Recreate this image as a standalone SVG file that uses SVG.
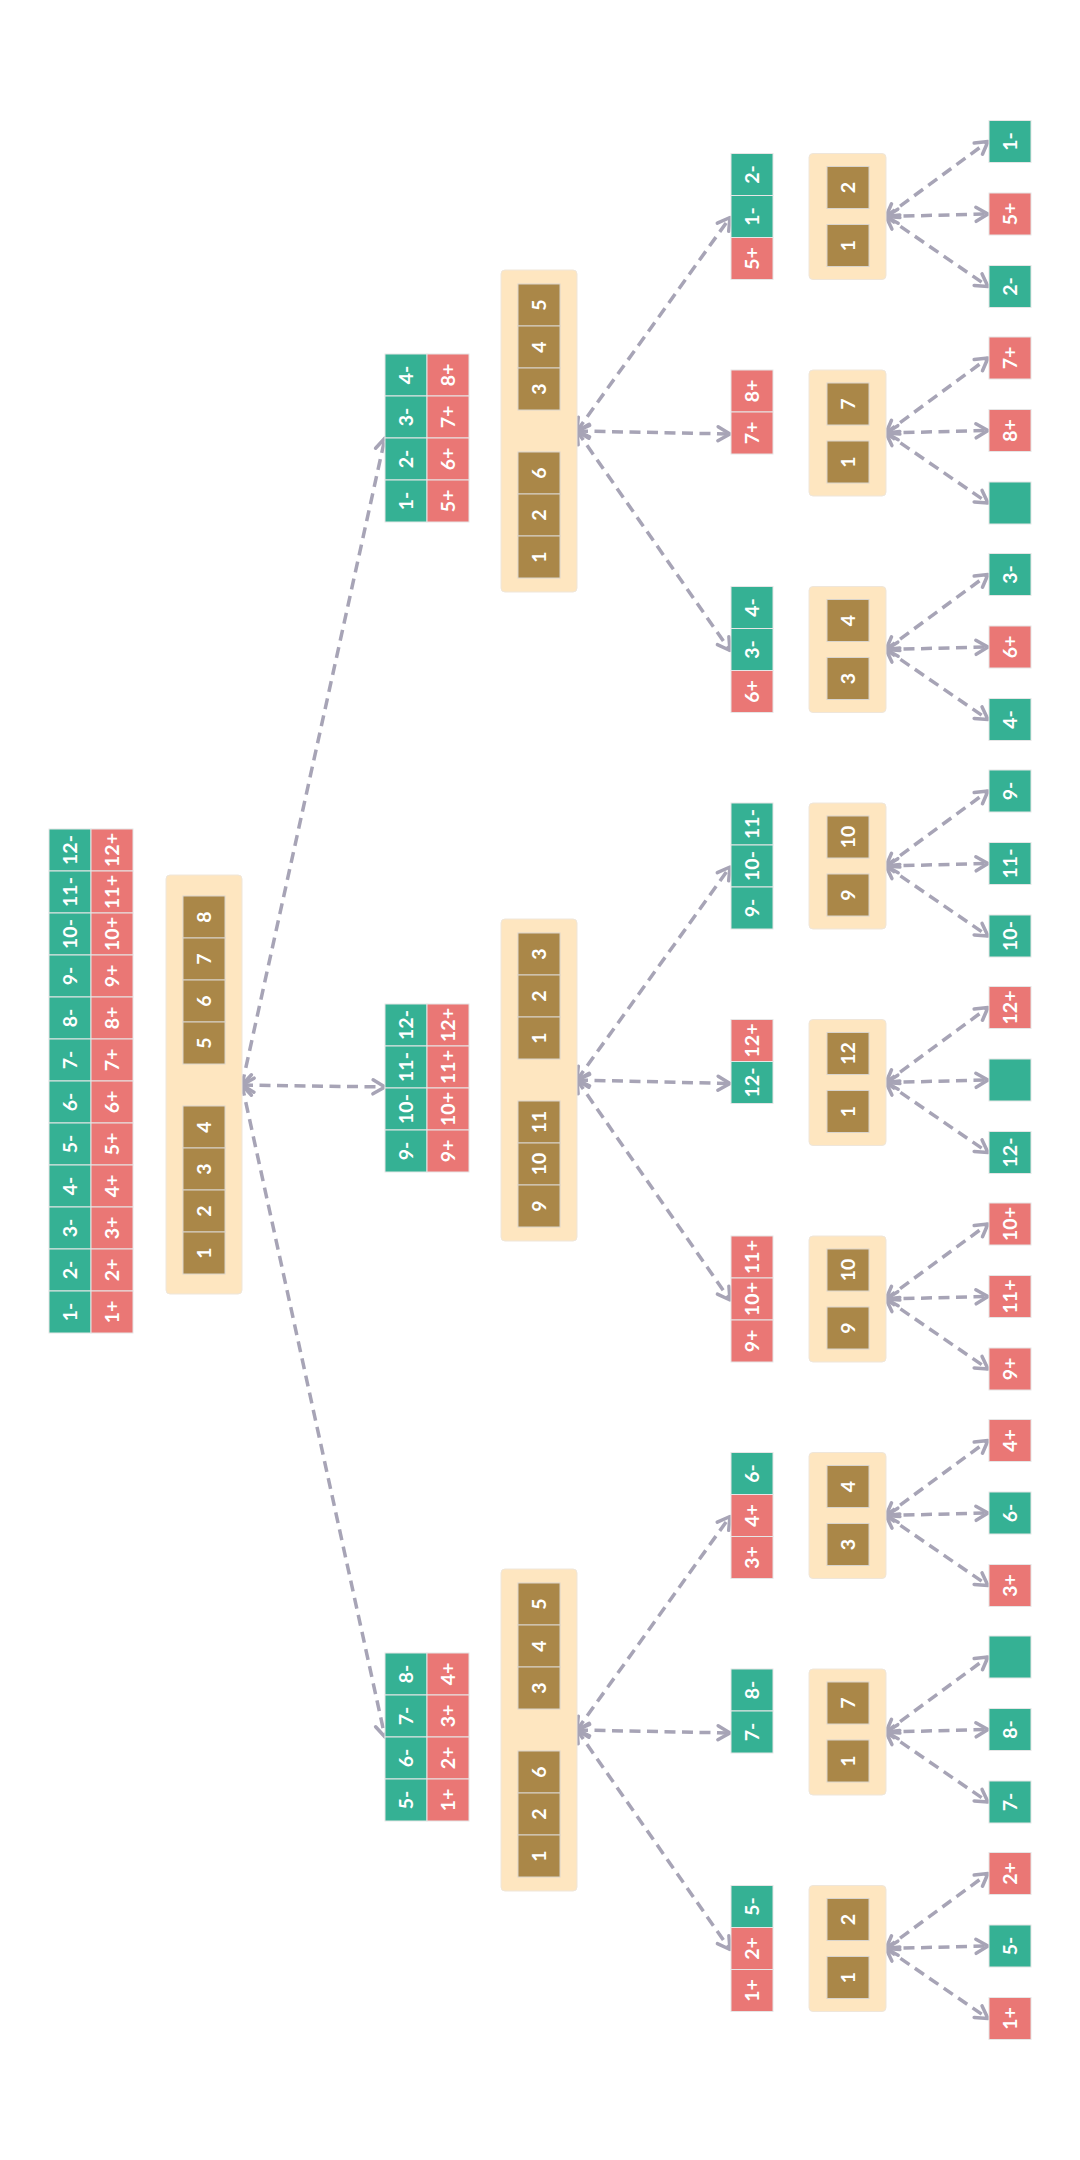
<svg xmlns="http://www.w3.org/2000/svg" width="1080" height="2160" viewBox="0 0 1080 2160">
  <style>
    .g { fill: #35b194; stroke: #e6e6e6; stroke-width: 1; }
    .r { fill: #ea7775; stroke: #e6e6e6; stroke-width: 1; }
    .b { fill: #aa8748; stroke: #d9d4cc; stroke-width: 1; }
    .box { fill: #fee6c0; stroke: #efe6da; stroke-width: 1; }
    .t { fill: #ffffff; font-family: Lato, "DejaVu Sans", sans-serif; font-weight: 700; font-size: 19.5px; text-anchor: middle; }
    .edge { fill: none; stroke: #a7a4b6; stroke-width: 3.5; stroke-dasharray: 11 6.5; marker-start: url(#chev); marker-end: url(#chev); }
  </style>
  <defs>
    <marker id="chev" markerUnits="userSpaceOnUse" markerWidth="20" markerHeight="20" viewBox="0 0 20 20" refX="15.5" refY="10" orient="auto-start-reverse">
      <path d="M3.5,3 L15.5,10 L3.5,17" fill="none" stroke="#a7a4b6" stroke-width="3.5" stroke-dasharray="none" stroke-linecap="round" stroke-linejoin="round"/>
    </marker>
  </defs>
  <rect width="1080" height="2160" fill="#ffffff"/>

  <!-- connectors -->
  <g id="connectors">
    <path class="edge" d="M242,1085 L385,438"/>
    <path class="edge" d="M242,1085 L385,1087"/>
    <path class="edge" d="M242,1085 L385,1737"/>

    <path class="edge" d="M577,431 L730,217.5"/>
    <path class="edge" d="M577,431 L730,434"/>
    <path class="edge" d="M577,431 L730,650.5"/>
    <path class="edge" d="M577,1080 L730,867"/>
    <path class="edge" d="M577,1080 L730,1083.5"/>
    <path class="edge" d="M577,1080 L730,1300"/>
    <path class="edge" d="M577,1730 L730,1516.5"/>
    <path class="edge" d="M577,1730 L730,1733"/>
    <path class="edge" d="M577,1730 L730,1949.5"/>

    <path class="edge" d="M886,216.5 L988,141.5"/>
    <path class="edge" d="M886,216.5 L988,214"/>
    <path class="edge" d="M886,216.5 L988,286.5"/>
    <path class="edge" d="M886,433 L988,358"/>
    <path class="edge" d="M886,433 L988,430.5"/>
    <path class="edge" d="M886,433 L988,503"/>
    <path class="edge" d="M886,649.5 L988,574.5"/>
    <path class="edge" d="M886,649.5 L988,647"/>
    <path class="edge" d="M886,649.5 L988,719.5"/>
    <path class="edge" d="M886,866 L988,791"/>
    <path class="edge" d="M886,866 L988,863.5"/>
    <path class="edge" d="M886,866 L988,936"/>
    <path class="edge" d="M886,1082.5 L988,1007.5"/>
    <path class="edge" d="M886,1082.5 L988,1080"/>
    <path class="edge" d="M886,1082.5 L988,1152.5"/>
    <path class="edge" d="M886,1299 L988,1224"/>
    <path class="edge" d="M886,1299 L988,1296.5"/>
    <path class="edge" d="M886,1299 L988,1369"/>
    <path class="edge" d="M886,1515.5 L988,1440.5"/>
    <path class="edge" d="M886,1515.5 L988,1513"/>
    <path class="edge" d="M886,1515.5 L988,1585.5"/>
    <path class="edge" d="M886,1732 L988,1657"/>
    <path class="edge" d="M886,1732 L988,1729.5"/>
    <path class="edge" d="M886,1732 L988,1802"/>
    <path class="edge" d="M886,1948.5 L988,1873.5"/>
    <path class="edge" d="M886,1948.5 L988,1946"/>
    <path class="edge" d="M886,1948.5 L988,2018.5"/>
  </g>

  <!-- root: full legend of all twelve items -->
  <g id="root-legend">
    <rect class="g" x="49" y="829" width="42" height="42"/><rect class="r" x="91" y="829" width="42" height="42"/>
    <rect class="g" x="49" y="871" width="42" height="42"/><rect class="r" x="91" y="871" width="42" height="42"/>
    <rect class="g" x="49" y="913" width="42" height="42"/><rect class="r" x="91" y="913" width="42" height="42"/>
    <rect class="g" x="49" y="955" width="42" height="42"/><rect class="r" x="91" y="955" width="42" height="42"/>
    <rect class="g" x="49" y="997" width="42" height="42"/><rect class="r" x="91" y="997" width="42" height="42"/>
    <rect class="g" x="49" y="1039" width="42" height="42"/><rect class="r" x="91" y="1039" width="42" height="42"/>
    <rect class="g" x="49" y="1081" width="42" height="42"/><rect class="r" x="91" y="1081" width="42" height="42"/>
    <rect class="g" x="49" y="1123" width="42" height="42"/><rect class="r" x="91" y="1123" width="42" height="42"/>
    <rect class="g" x="49" y="1165" width="42" height="42"/><rect class="r" x="91" y="1165" width="42" height="42"/>
    <rect class="g" x="49" y="1207" width="42" height="42"/><rect class="r" x="91" y="1207" width="42" height="42"/>
    <rect class="g" x="49" y="1249" width="42" height="42"/><rect class="r" x="91" y="1249" width="42" height="42"/>
    <rect class="g" x="49" y="1291" width="42" height="42"/><rect class="r" x="91" y="1291" width="42" height="42"/>
    <text class="t" transform="translate(70 850) rotate(-90)" dy="7">12-</text><text class="t" transform="translate(112 850) rotate(-90)" dy="7">12+</text>
    <text class="t" transform="translate(70 892) rotate(-90)" dy="7">11-</text><text class="t" transform="translate(112 892) rotate(-90)" dy="7">11+</text>
    <text class="t" transform="translate(70 934) rotate(-90)" dy="7">10-</text><text class="t" transform="translate(112 934) rotate(-90)" dy="7">10+</text>
    <text class="t" transform="translate(70 976) rotate(-90)" dy="7">9-</text><text class="t" transform="translate(112 976) rotate(-90)" dy="7">9+</text>
    <text class="t" transform="translate(70 1018) rotate(-90)" dy="7">8-</text><text class="t" transform="translate(112 1018) rotate(-90)" dy="7">8+</text>
    <text class="t" transform="translate(70 1060) rotate(-90)" dy="7">7-</text><text class="t" transform="translate(112 1060) rotate(-90)" dy="7">7+</text>
    <text class="t" transform="translate(70 1102) rotate(-90)" dy="7">6-</text><text class="t" transform="translate(112 1102) rotate(-90)" dy="7">6+</text>
    <text class="t" transform="translate(70 1144) rotate(-90)" dy="7">5-</text><text class="t" transform="translate(112 1144) rotate(-90)" dy="7">5+</text>
    <text class="t" transform="translate(70 1186) rotate(-90)" dy="7">4-</text><text class="t" transform="translate(112 1186) rotate(-90)" dy="7">4+</text>
    <text class="t" transform="translate(70 1228) rotate(-90)" dy="7">3-</text><text class="t" transform="translate(112 1228) rotate(-90)" dy="7">3+</text>
    <text class="t" transform="translate(70 1270) rotate(-90)" dy="7">2-</text><text class="t" transform="translate(112 1270) rotate(-90)" dy="7">2+</text>
    <text class="t" transform="translate(70 1312) rotate(-90)" dy="7">1-</text><text class="t" transform="translate(112 1312) rotate(-90)" dy="7">1+</text>
  </g>

  <!-- root weighing: 1 2 3 4 against 5 6 7 8 -->
  <g id="root-weigh">
    <rect class="box" x="166" y="875" width="76" height="419" rx="4"/>
    <rect class="b" x="183" y="896" width="42" height="42"/><text class="t" transform="translate(204 917) rotate(-90)" dy="7">8</text>
    <rect class="b" x="183" y="938" width="42" height="42"/><text class="t" transform="translate(204 959) rotate(-90)" dy="7">7</text>
    <rect class="b" x="183" y="980" width="42" height="42"/><text class="t" transform="translate(204 1001) rotate(-90)" dy="7">6</text>
    <rect class="b" x="183" y="1022" width="42" height="42"/><text class="t" transform="translate(204 1043) rotate(-90)" dy="7">5</text>
    <rect class="b" x="183" y="1106" width="42" height="42"/><text class="t" transform="translate(204 1127) rotate(-90)" dy="7">4</text>
    <rect class="b" x="183" y="1148" width="42" height="42"/><text class="t" transform="translate(204 1169) rotate(-90)" dy="7">3</text>
    <rect class="b" x="183" y="1190" width="42" height="42"/><text class="t" transform="translate(204 1211) rotate(-90)" dy="7">2</text>
    <rect class="b" x="183" y="1232" width="42" height="42"/><text class="t" transform="translate(204 1253) rotate(-90)" dy="7">1</text>
  </g>

  <!-- level 1, upper branch -->
  <g id="l1a-legend">
    <rect class="g" x="385" y="354" width="42" height="42"/><rect class="r" x="427" y="354" width="42" height="42"/>
    <rect class="g" x="385" y="396" width="42" height="42"/><rect class="r" x="427" y="396" width="42" height="42"/>
    <rect class="g" x="385" y="438" width="42" height="42"/><rect class="r" x="427" y="438" width="42" height="42"/>
    <rect class="g" x="385" y="480" width="42" height="42"/><rect class="r" x="427" y="480" width="42" height="42"/>
    <text class="t" transform="translate(406 375) rotate(-90)" dy="7">4-</text><text class="t" transform="translate(448 375) rotate(-90)" dy="7">8+</text>
    <text class="t" transform="translate(406 417) rotate(-90)" dy="7">3-</text><text class="t" transform="translate(448 417) rotate(-90)" dy="7">7+</text>
    <text class="t" transform="translate(406 459) rotate(-90)" dy="7">2-</text><text class="t" transform="translate(448 459) rotate(-90)" dy="7">6+</text>
    <text class="t" transform="translate(406 501) rotate(-90)" dy="7">1-</text><text class="t" transform="translate(448 501) rotate(-90)" dy="7">5+</text>
  </g>
  <g id="l1a-weigh">
    <rect class="box" x="501" y="270" width="76" height="322" rx="4"/>
    <rect class="b" x="518" y="284" width="42" height="42"/><text class="t" transform="translate(539 305) rotate(-90)" dy="7">5</text>
    <rect class="b" x="518" y="326" width="42" height="42"/><text class="t" transform="translate(539 347) rotate(-90)" dy="7">4</text>
    <rect class="b" x="518" y="368" width="42" height="42"/><text class="t" transform="translate(539 389) rotate(-90)" dy="7">3</text>
    <rect class="b" x="518" y="452" width="42" height="42"/><text class="t" transform="translate(539 473) rotate(-90)" dy="7">6</text>
    <rect class="b" x="518" y="494" width="42" height="42"/><text class="t" transform="translate(539 515) rotate(-90)" dy="7">2</text>
    <rect class="b" x="518" y="536" width="42" height="42"/><text class="t" transform="translate(539 557) rotate(-90)" dy="7">1</text>
  </g>

  <!-- level 1, middle branch -->
  <g id="l1b-legend">
    <rect class="g" x="385" y="1004" width="42" height="42"/><rect class="r" x="427" y="1004" width="42" height="42"/>
    <rect class="g" x="385" y="1046" width="42" height="42"/><rect class="r" x="427" y="1046" width="42" height="42"/>
    <rect class="g" x="385" y="1088" width="42" height="42"/><rect class="r" x="427" y="1088" width="42" height="42"/>
    <rect class="g" x="385" y="1130" width="42" height="42"/><rect class="r" x="427" y="1130" width="42" height="42"/>
    <text class="t" transform="translate(406 1025) rotate(-90)" dy="7">12-</text><text class="t" transform="translate(448 1025) rotate(-90)" dy="7">12+</text>
    <text class="t" transform="translate(406 1067) rotate(-90)" dy="7">11-</text><text class="t" transform="translate(448 1067) rotate(-90)" dy="7">11+</text>
    <text class="t" transform="translate(406 1109) rotate(-90)" dy="7">10-</text><text class="t" transform="translate(448 1109) rotate(-90)" dy="7">10+</text>
    <text class="t" transform="translate(406 1151) rotate(-90)" dy="7">9-</text><text class="t" transform="translate(448 1151) rotate(-90)" dy="7">9+</text>
  </g>
  <g id="l1b-weigh">
    <rect class="box" x="501" y="919" width="76" height="322" rx="4"/>
    <rect class="b" x="518" y="933" width="42" height="42"/><text class="t" transform="translate(539 954) rotate(-90)" dy="7">3</text>
    <rect class="b" x="518" y="975" width="42" height="42"/><text class="t" transform="translate(539 996) rotate(-90)" dy="7">2</text>
    <rect class="b" x="518" y="1017" width="42" height="42"/><text class="t" transform="translate(539 1038) rotate(-90)" dy="7">1</text>
    <rect class="b" x="518" y="1101" width="42" height="42"/><text class="t" transform="translate(539 1122) rotate(-90)" dy="7">11</text>
    <rect class="b" x="518" y="1143" width="42" height="42"/><text class="t" transform="translate(539 1164) rotate(-90)" dy="7">10</text>
    <rect class="b" x="518" y="1185" width="42" height="42"/><text class="t" transform="translate(539 1206) rotate(-90)" dy="7">9</text>
  </g>

  <!-- level 1, lower branch -->
  <g id="l1c-legend">
    <rect class="g" x="385" y="1653" width="42" height="42"/><rect class="r" x="427" y="1653" width="42" height="42"/>
    <rect class="g" x="385" y="1695" width="42" height="42"/><rect class="r" x="427" y="1695" width="42" height="42"/>
    <rect class="g" x="385" y="1737" width="42" height="42"/><rect class="r" x="427" y="1737" width="42" height="42"/>
    <rect class="g" x="385" y="1779" width="42" height="42"/><rect class="r" x="427" y="1779" width="42" height="42"/>
    <text class="t" transform="translate(406 1674) rotate(-90)" dy="7">8-</text><text class="t" transform="translate(448 1674) rotate(-90)" dy="7">4+</text>
    <text class="t" transform="translate(406 1716) rotate(-90)" dy="7">7-</text><text class="t" transform="translate(448 1716) rotate(-90)" dy="7">3+</text>
    <text class="t" transform="translate(406 1758) rotate(-90)" dy="7">6-</text><text class="t" transform="translate(448 1758) rotate(-90)" dy="7">2+</text>
    <text class="t" transform="translate(406 1800) rotate(-90)" dy="7">5-</text><text class="t" transform="translate(448 1800) rotate(-90)" dy="7">1+</text>
  </g>
  <g id="l1c-weigh">
    <rect class="box" x="501" y="1569" width="76" height="322" rx="4"/>
    <rect class="b" x="518" y="1583" width="42" height="42"/><text class="t" transform="translate(539 1604) rotate(-90)" dy="7">5</text>
    <rect class="b" x="518" y="1625" width="42" height="42"/><text class="t" transform="translate(539 1646) rotate(-90)" dy="7">4</text>
    <rect class="b" x="518" y="1667" width="42" height="42"/><text class="t" transform="translate(539 1688) rotate(-90)" dy="7">3</text>
    <rect class="b" x="518" y="1751" width="42" height="42"/><text class="t" transform="translate(539 1772) rotate(-90)" dy="7">6</text>
    <rect class="b" x="518" y="1793" width="42" height="42"/><text class="t" transform="translate(539 1814) rotate(-90)" dy="7">2</text>
    <rect class="b" x="518" y="1835" width="42" height="42"/><text class="t" transform="translate(539 1856) rotate(-90)" dy="7">1</text>
  </g>

  <!-- level 2 branches: candidate list, weighing, outcomes -->
  <g id="l2-0">
    <rect class="g" x="731" y="153.5" width="42" height="42"/><text class="t" transform="translate(752 174.5) rotate(-90)" dy="7">2-</text>
    <rect class="g" x="731" y="195.5" width="42" height="42"/><text class="t" transform="translate(752 216.5) rotate(-90)" dy="7">1-</text>
    <rect class="r" x="731" y="237.5" width="42" height="42"/><text class="t" transform="translate(752 258.5) rotate(-90)" dy="7">5+</text>
    <rect class="box" x="809" y="153.5" width="77" height="126" rx="4"/>
    <rect class="b" x="827" y="166.5" width="42" height="42"/><text class="t" transform="translate(848 187.5) rotate(-90)" dy="7">2</text>
    <rect class="b" x="827" y="224.5" width="42" height="42"/><text class="t" transform="translate(848 245.5) rotate(-90)" dy="7">1</text>
  </g>
  <g id="l3-0">
    <rect class="g" x="989" y="120.5" width="42" height="42"/><text class="t" transform="translate(1010 141.5) rotate(-90)" dy="7">1-</text>
    <rect class="r" x="989" y="193" width="42" height="42"/><text class="t" transform="translate(1010 214) rotate(-90)" dy="7">5+</text>
    <rect class="g" x="989" y="265.5" width="42" height="42"/><text class="t" transform="translate(1010 286.5) rotate(-90)" dy="7">2-</text>
  </g>

  <g id="l2-1">
    <rect class="r" x="731" y="370" width="42" height="42"/><text class="t" transform="translate(752 391) rotate(-90)" dy="7">8+</text>
    <rect class="r" x="731" y="412" width="42" height="42"/><text class="t" transform="translate(752 433) rotate(-90)" dy="7">7+</text>
    <rect class="box" x="809" y="370" width="77" height="126" rx="4"/>
    <rect class="b" x="827" y="383" width="42" height="42"/><text class="t" transform="translate(848 404) rotate(-90)" dy="7">7</text>
    <rect class="b" x="827" y="441" width="42" height="42"/><text class="t" transform="translate(848 462) rotate(-90)" dy="7">1</text>
  </g>
  <g id="l3-1">
    <rect class="r" x="989" y="337" width="42" height="42"/><text class="t" transform="translate(1010 358) rotate(-90)" dy="7">7+</text>
    <rect class="r" x="989" y="409.5" width="42" height="42"/><text class="t" transform="translate(1010 430.5) rotate(-90)" dy="7">8+</text>
    <rect class="g" x="989" y="482" width="42" height="42"/>
  </g>

  <g id="l2-2">
    <rect class="g" x="731" y="586.5" width="42" height="42"/><text class="t" transform="translate(752 607.5) rotate(-90)" dy="7">4-</text>
    <rect class="g" x="731" y="628.5" width="42" height="42"/><text class="t" transform="translate(752 649.5) rotate(-90)" dy="7">3-</text>
    <rect class="r" x="731" y="670.5" width="42" height="42"/><text class="t" transform="translate(752 691.5) rotate(-90)" dy="7">6+</text>
    <rect class="box" x="809" y="586.5" width="77" height="126" rx="4"/>
    <rect class="b" x="827" y="599.5" width="42" height="42"/><text class="t" transform="translate(848 620.5) rotate(-90)" dy="7">4</text>
    <rect class="b" x="827" y="657.5" width="42" height="42"/><text class="t" transform="translate(848 678.5) rotate(-90)" dy="7">3</text>
  </g>
  <g id="l3-2">
    <rect class="g" x="989" y="553.5" width="42" height="42"/><text class="t" transform="translate(1010 574.5) rotate(-90)" dy="7">3-</text>
    <rect class="r" x="989" y="626" width="42" height="42"/><text class="t" transform="translate(1010 647) rotate(-90)" dy="7">6+</text>
    <rect class="g" x="989" y="698.5" width="42" height="42"/><text class="t" transform="translate(1010 719.5) rotate(-90)" dy="7">4-</text>
  </g>

  <g id="l2-3">
    <rect class="g" x="731" y="803" width="42" height="42"/><text class="t" transform="translate(752 824) rotate(-90)" dy="7">11-</text>
    <rect class="g" x="731" y="845" width="42" height="42"/><text class="t" transform="translate(752 866) rotate(-90)" dy="7">10-</text>
    <rect class="g" x="731" y="887" width="42" height="42"/><text class="t" transform="translate(752 908) rotate(-90)" dy="7">9-</text>
    <rect class="box" x="809" y="803" width="77" height="126" rx="4"/>
    <rect class="b" x="827" y="816" width="42" height="42"/><text class="t" transform="translate(848 837) rotate(-90)" dy="7">10</text>
    <rect class="b" x="827" y="874" width="42" height="42"/><text class="t" transform="translate(848 895) rotate(-90)" dy="7">9</text>
  </g>
  <g id="l3-3">
    <rect class="g" x="989" y="770" width="42" height="42"/><text class="t" transform="translate(1010 791) rotate(-90)" dy="7">9-</text>
    <rect class="g" x="989" y="842.5" width="42" height="42"/><text class="t" transform="translate(1010 863.5) rotate(-90)" dy="7">11-</text>
    <rect class="g" x="989" y="915" width="42" height="42"/><text class="t" transform="translate(1010 936) rotate(-90)" dy="7">10-</text>
  </g>

  <g id="l2-4">
    <rect class="r" x="731" y="1019.5" width="42" height="42"/><text class="t" transform="translate(752 1040.5) rotate(-90)" dy="7">12+</text>
    <rect class="g" x="731" y="1061.5" width="42" height="42"/><text class="t" transform="translate(752 1082.5) rotate(-90)" dy="7">12-</text>
    <rect class="box" x="809" y="1019.5" width="77" height="126" rx="4"/>
    <rect class="b" x="827" y="1032.5" width="42" height="42"/><text class="t" transform="translate(848 1053.5) rotate(-90)" dy="7">12</text>
    <rect class="b" x="827" y="1090.5" width="42" height="42"/><text class="t" transform="translate(848 1111.5) rotate(-90)" dy="7">1</text>
  </g>
  <g id="l3-4">
    <rect class="r" x="989" y="986.5" width="42" height="42"/><text class="t" transform="translate(1010 1007.5) rotate(-90)" dy="7">12+</text>
    <rect class="g" x="989" y="1059" width="42" height="42"/>
    <rect class="g" x="989" y="1131.5" width="42" height="42"/><text class="t" transform="translate(1010 1152.5) rotate(-90)" dy="7">12-</text>
  </g>

  <g id="l2-5">
    <rect class="r" x="731" y="1236" width="42" height="42"/><text class="t" transform="translate(752 1257) rotate(-90)" dy="7">11+</text>
    <rect class="r" x="731" y="1278" width="42" height="42"/><text class="t" transform="translate(752 1299) rotate(-90)" dy="7">10+</text>
    <rect class="r" x="731" y="1320" width="42" height="42"/><text class="t" transform="translate(752 1341) rotate(-90)" dy="7">9+</text>
    <rect class="box" x="809" y="1236" width="77" height="126" rx="4"/>
    <rect class="b" x="827" y="1249" width="42" height="42"/><text class="t" transform="translate(848 1270) rotate(-90)" dy="7">10</text>
    <rect class="b" x="827" y="1307" width="42" height="42"/><text class="t" transform="translate(848 1328) rotate(-90)" dy="7">9</text>
  </g>
  <g id="l3-5">
    <rect class="r" x="989" y="1203" width="42" height="42"/><text class="t" transform="translate(1010 1224) rotate(-90)" dy="7">10+</text>
    <rect class="r" x="989" y="1275.5" width="42" height="42"/><text class="t" transform="translate(1010 1296.5) rotate(-90)" dy="7">11+</text>
    <rect class="r" x="989" y="1348" width="42" height="42"/><text class="t" transform="translate(1010 1369) rotate(-90)" dy="7">9+</text>
  </g>

  <g id="l2-6">
    <rect class="g" x="731" y="1452.5" width="42" height="42"/><text class="t" transform="translate(752 1473.5) rotate(-90)" dy="7">6-</text>
    <rect class="r" x="731" y="1494.5" width="42" height="42"/><text class="t" transform="translate(752 1515.5) rotate(-90)" dy="7">4+</text>
    <rect class="r" x="731" y="1536.5" width="42" height="42"/><text class="t" transform="translate(752 1557.5) rotate(-90)" dy="7">3+</text>
    <rect class="box" x="809" y="1452.5" width="77" height="126" rx="4"/>
    <rect class="b" x="827" y="1465.5" width="42" height="42"/><text class="t" transform="translate(848 1486.5) rotate(-90)" dy="7">4</text>
    <rect class="b" x="827" y="1523.5" width="42" height="42"/><text class="t" transform="translate(848 1544.5) rotate(-90)" dy="7">3</text>
  </g>
  <g id="l3-6">
    <rect class="r" x="989" y="1419.5" width="42" height="42"/><text class="t" transform="translate(1010 1440.5) rotate(-90)" dy="7">4+</text>
    <rect class="g" x="989" y="1492" width="42" height="42"/><text class="t" transform="translate(1010 1513) rotate(-90)" dy="7">6-</text>
    <rect class="r" x="989" y="1564.5" width="42" height="42"/><text class="t" transform="translate(1010 1585.5) rotate(-90)" dy="7">3+</text>
  </g>

  <g id="l2-7">
    <rect class="g" x="731" y="1669" width="42" height="42"/><text class="t" transform="translate(752 1690) rotate(-90)" dy="7">8-</text>
    <rect class="g" x="731" y="1711" width="42" height="42"/><text class="t" transform="translate(752 1732) rotate(-90)" dy="7">7-</text>
    <rect class="box" x="809" y="1669" width="77" height="126" rx="4"/>
    <rect class="b" x="827" y="1682" width="42" height="42"/><text class="t" transform="translate(848 1703) rotate(-90)" dy="7">7</text>
    <rect class="b" x="827" y="1740" width="42" height="42"/><text class="t" transform="translate(848 1761) rotate(-90)" dy="7">1</text>
  </g>
  <g id="l3-7">
    <rect class="g" x="989" y="1636" width="42" height="42"/>
    <rect class="g" x="989" y="1708.5" width="42" height="42"/><text class="t" transform="translate(1010 1729.5) rotate(-90)" dy="7">8-</text>
    <rect class="g" x="989" y="1781" width="42" height="42"/><text class="t" transform="translate(1010 1802) rotate(-90)" dy="7">7-</text>
  </g>

  <g id="l2-8">
    <rect class="g" x="731" y="1885.5" width="42" height="42"/><text class="t" transform="translate(752 1906.5) rotate(-90)" dy="7">5-</text>
    <rect class="r" x="731" y="1927.5" width="42" height="42"/><text class="t" transform="translate(752 1948.5) rotate(-90)" dy="7">2+</text>
    <rect class="r" x="731" y="1969.5" width="42" height="42"/><text class="t" transform="translate(752 1990.5) rotate(-90)" dy="7">1+</text>
    <rect class="box" x="809" y="1885.5" width="77" height="126" rx="4"/>
    <rect class="b" x="827" y="1898.5" width="42" height="42"/><text class="t" transform="translate(848 1919.5) rotate(-90)" dy="7">2</text>
    <rect class="b" x="827" y="1956.5" width="42" height="42"/><text class="t" transform="translate(848 1977.5) rotate(-90)" dy="7">1</text>
  </g>
  <g id="l3-8">
    <rect class="r" x="989" y="1852.5" width="42" height="42"/><text class="t" transform="translate(1010 1873.5) rotate(-90)" dy="7">2+</text>
    <rect class="g" x="989" y="1925" width="42" height="42"/><text class="t" transform="translate(1010 1946) rotate(-90)" dy="7">5-</text>
    <rect class="r" x="989" y="1997.5" width="42" height="42"/><text class="t" transform="translate(1010 2018.5) rotate(-90)" dy="7">1+</text>
  </g>
</svg>
